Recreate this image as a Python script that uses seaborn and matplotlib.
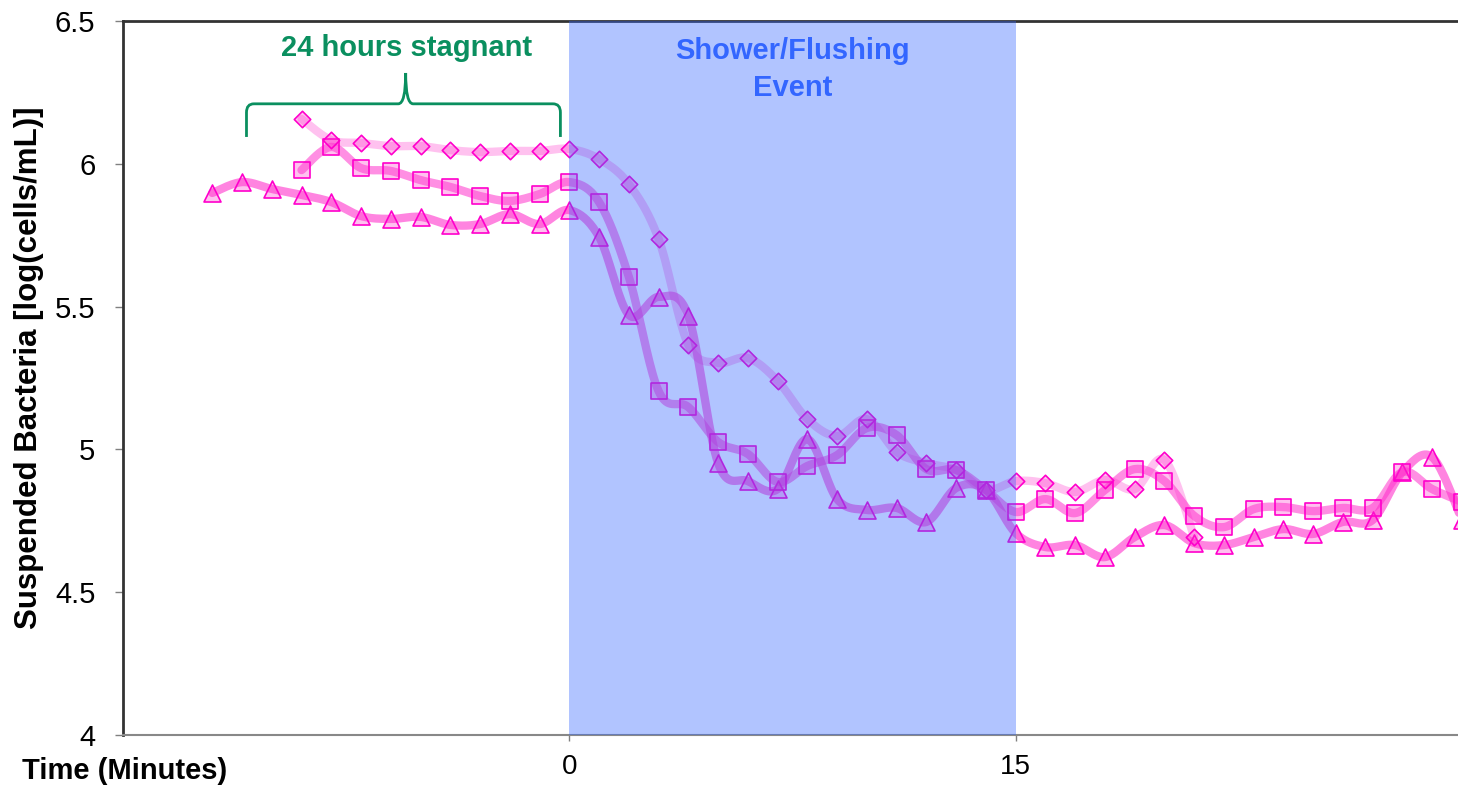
import numpy as np
import pandas as pd
import matplotlib
matplotlib.use("Agg")
import matplotlib.pyplot as plt
import seaborn as sns

# ---- data ----
tri_x = list(range(-12, 31))
tri_y = [5.898, 5.936, 5.912, 5.891, 5.866, 5.817, 5.807, 5.814, 5.786, 5.789, 5.824, 5.789,
         5.838, 5.744, 5.471, 5.534, 5.467, 4.952, 4.889, 4.861, 5.036, 4.826, 4.788, 4.795,
         4.746, 4.865, 4.858, 4.707, 4.658, 4.665, 4.623, 4.693, 4.735, 4.672, 4.665, 4.693,
         4.721, 4.704, 4.746, 4.753, 4.921, 4.973, 4.753]
sq_x = list(range(-9, 31))
sq_y = [5.978, 6.059, 5.985, 5.975, 5.943, 5.919, 5.887, 5.870, 5.894, 5.936,
        5.866, 5.604, 5.204, 5.148, 5.026, 4.984, 4.886, 4.942, 4.980, 5.075,
        5.050, 4.931, 4.928, 4.858, 4.781, 4.826, 4.777, 4.858, 4.931, 4.889,
        4.767, 4.728, 4.791, 4.798, 4.784, 4.795, 4.795, 4.921, 4.861, 4.816]
dia_x = list(range(-9, 22))
dia_y = [6.157, 6.083, 6.073, 6.062, 6.062, 6.048, 6.041, 6.045, 6.045, 6.052,
         6.017, 5.929, 5.737, 5.366, 5.303, 5.320, 5.240, 5.106, 5.047, 5.106,
         4.991, 4.952, 4.928, 4.858, 4.889, 4.882, 4.851, 4.893, 4.861, 4.963, 4.693]

x_ticks = [0, 15]
y_ticks = [4, 4.5, 5, 5.5, 6, 6.5]
y_tick_labels = ["4", "4.5", "5", "5.5", "6", "6.5"]
shower_start, shower_end = 0, 15

# ---- smoothing for drawing (Catmull-Rom, like spreadsheet "smoothed line") ----
def smooth(xs, ys, n=20):
    P = np.column_stack([xs, ys]).astype(float)
    P = np.vstack([P[0], P, P[-1]])
    out = []
    for i in range(1, len(P) - 2):
        p0, p1, p2, p3 = P[i - 1], P[i], P[i + 1], P[i + 2]
        t = np.linspace(0, 1, n, endpoint=False)[:, None]
        c = 0.5 * ((2 * p1) + (-p0 + p2) * t + (2 * p0 - 5 * p1 + 4 * p2 - p3) * t ** 2
                   + (-p0 + 3 * p1 - 3 * p2 + p3) * t ** 3)
        out.append(c)
    out.append(P[-2][None, :])
    out = np.vstack(out)
    return out[:, 0], out[:, 1]

sns.set_style("white")
plt.rcParams['font.family'] = ['Liberation Sans', 'DejaVu Sans']

fig = plt.figure(figsize=(14.58, 7.9), dpi=100)
ax = fig.add_axes([123 / 1458, 55 / 790, (1462 - 123) / 1458, 714 / 790])

series = [
    ("tri", tri_x, tri_y, "^", 0.6, 150),
    ("sq", sq_x, sq_y, "s", 0.55, 130),
    ("dia", dia_x, dia_y, "D", 0.3, 70),
]
for name, xs, ys, mk, a, s in series:
    sx, sy = smooth(xs, ys)
    df_line = pd.DataFrame({"x": sx, "y": sy})
    sns.lineplot(data=df_line, x="x", y="y", ax=ax, color="#ff33cc", alpha=a,
                 linewidth=6, sort=False, estimator=None, zorder=2)
    df_pts = pd.DataFrame({"x": xs, "y": ys})
    sns.scatterplot(data=df_pts, x="x", y="y", ax=ax, marker=mk, s=s,
                    facecolor=(1.0, 0.2, 0.8, 0.3), edgecolor="#ff00cc",
                    linewidth=1.2, zorder=3)

ax.axvspan(shower_start, shower_end, color="#3366ff", alpha=0.38, lw=0, zorder=4)

ax.set_xlim(-15, 30)
ax.set_ylim(4, 6.5)
ax.set_xticks(x_ticks)
ax.set_xticklabels([str(v) for v in x_ticks], fontsize=20, color="black")
ax.set_yticks(y_ticks)
ax.set_yticklabels(y_tick_labels, fontsize=21, color="black")
ax.tick_params(axis="y", length=5.8, width=1, color="#808080", direction="out", pad=14, left=True)
ax.tick_params(axis="x", length=4.5, width=1, color="#808080", direction="out", pad=9, bottom=True)
ax.set_xlabel("")
ax.set_ylabel("Suspended Bacteria [log(cells/mL)]", fontsize=22.5, fontweight="bold", color="black")
ax.yaxis.set_label_coords(-(123 - 44) / (1462 - 123), 0.515)

for side in ["left", "top"]:
    ax.spines[side].set_color("#333333")
    ax.spines[side].set_linewidth(2)
ax.spines["bottom"].set_color("#888888")
ax.spines["bottom"].set_linewidth(1.5)
ax.spines["right"].set_visible(False)

fig.text(22 / 1458, 1 - 771 / 790, "Time (Minutes)", fontsize=21, fontweight="bold",
         va="center", ha="left", color="black")

ax.text(7.5, 6.33, "Shower/Flushing\nEvent", color="#3366ff", fontsize=21,
        fontweight="bold", ha="center", va="center", linespacing=1.38, zorder=5)
ax.text(-5.47, 6.405, "24 hours stagnant", color="#0a8f5f", fontsize=21,
        fontweight="bold", ha="center", va="center", zorder=5)

# curly brace
from matplotlib.path import Path
from matplotlib.patches import PathPatch
xl, xr, xm = -10.85, -0.3, -5.5
yb, yt, ytip = 6.094, 6.21, 6.318
r = 0.25
verts = [(xl, yb), (xl, yt - 0.03), (xl, yt), (xl + r, yt),
         (xm - r, yt), (xm, yt), (xm, ytip),
         (xm, yt), (xm + r, yt),
         (xr - r, yt), (xr, yt), (xr, yt - 0.03), (xr, yb)]
codes = [Path.MOVETO, Path.LINETO, Path.CURVE3, Path.CURVE3,
         Path.LINETO, Path.CURVE3, Path.CURVE3,
         Path.CURVE3, Path.CURVE3,
         Path.LINETO, Path.CURVE3, Path.CURVE3, Path.LINETO]
ax.add_patch(PathPatch(Path(verts, codes), fill=False, edgecolor="#0a8f5f", lw=2, zorder=5))

fig.savefig("out.png", dpi=100)
